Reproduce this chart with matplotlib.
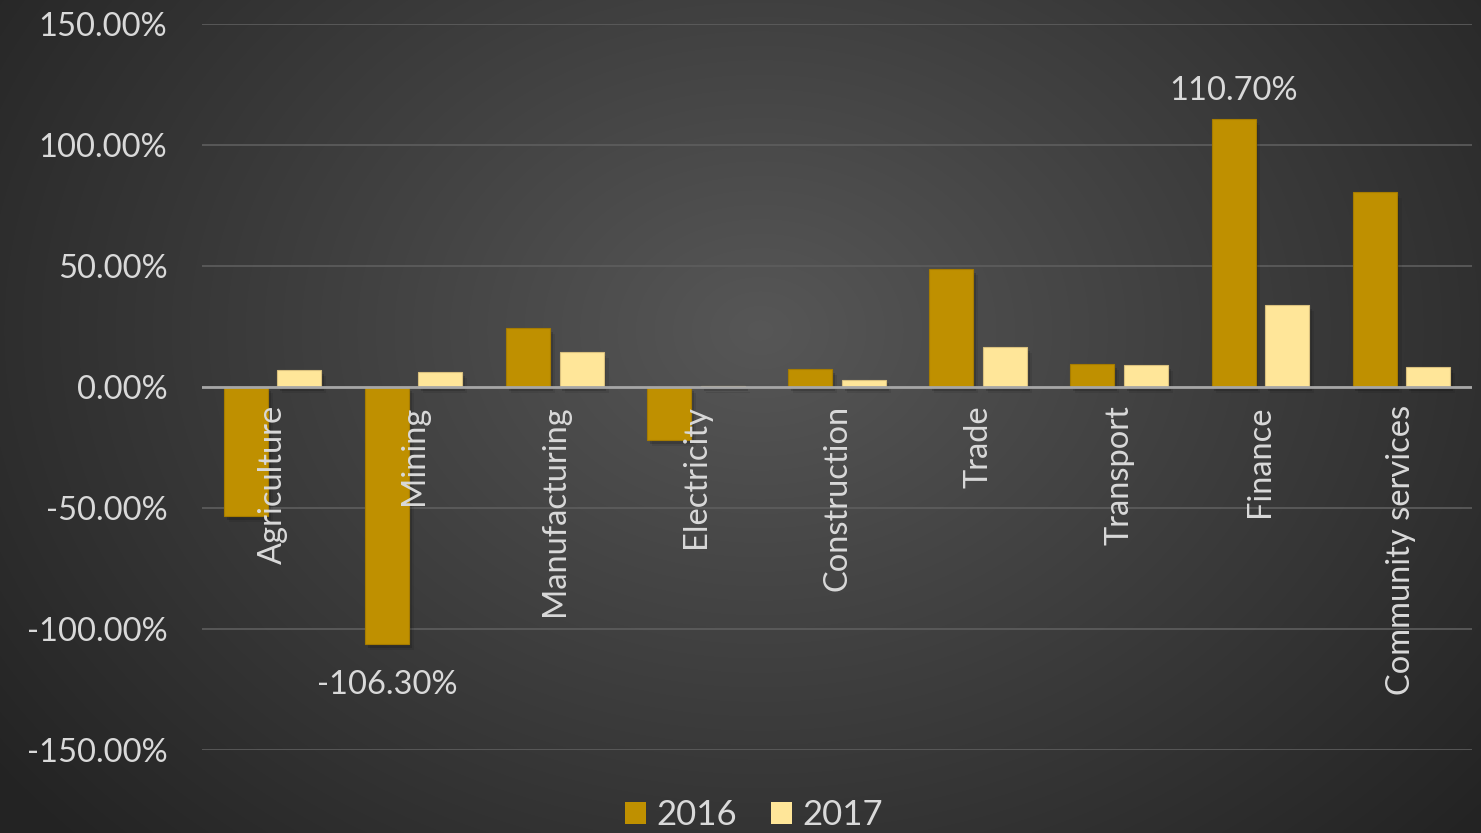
import numpy as np
import matplotlib
matplotlib.use("Agg")
import matplotlib.pyplot as plt
from matplotlib.patches import Patch

plt.rcParams['font.family'] = ['Lato', 'DejaVu Sans']

categories = ['Agriculture', 'Mining', 'Manufacturing', 'Electricity', 'Construction',
              'Trade', 'Transport', 'Finance', 'Community services']
vals_2016 = [-53.3, -106.3, 24.4, -21.9, 7.3, 48.8, 9.5, 110.7, 80.6]
vals_2017 = [7.0, 6.1, 14.5, 0.5, 3.0, 16.4, 9.0, 33.8, 8.4]
yticks = [-150, -100, -50, 0, 50, 100, 150]

c2016 = '#BF9000'
c2017 = '#FFE699'
txt = '#D9D9D9'

fig = plt.figure(figsize=(14.81, 8.33), dpi=100)

# radial gradient background
bg = fig.add_axes([0, 0, 1, 1])
h, w = 833, 1481
yy, xx = np.mgrid[0:h, 0:w]
r = np.sqrt(((xx - 760) / 900.0) ** 2 + ((yy - 330) / 700.0) ** 2)
shade = np.clip(0.34 - 0.19 * r, 0.14, 0.34)
bg.imshow(np.dstack([shade, shade, shade]), aspect='auto', extent=[0, 1, 0, 1])
bg.axis('off')

ax = fig.add_axes([202 / w, 1 - 750 / h, 1270 / w, 726 / h])
ax.patch.set_alpha(0)

x = np.arange(len(categories))
bw = 0.312
off = 0.19
# soft shadows
for dx, dy, a in [(0.02, -1.5, 0.15), (0.035, -2.5, 0.08)]:
    ax.bar(x - off + dx, vals_2016, bw, bottom=dy, color='black', alpha=a, zorder=2)
    ax.bar(x + off + dx, vals_2017, bw, bottom=dy, color='black', alpha=a, zorder=2)
ax.bar(x - off, vals_2016, bw, color=c2016, edgecolor='#A67C00', linewidth=0.8, zorder=3, label='2016')
ax.bar(x + off, vals_2017, bw, color=c2017, edgecolor='#D9C07E', linewidth=0.8, zorder=3, label='2017')

ax.set_xlim(-0.5, len(categories) - 0.5)
ax.set_ylim(-150, 150)
ax.set_yticks(yticks)
ax.set_yticklabels(['{:.2f}%'.format(v) for v in yticks], fontsize=23.5, color=txt)
ax.tick_params(axis='y', length=0, pad=25)
ax.set_xticks([])
for s in ax.spines.values():
    s.set_visible(False)
ax.grid(axis='y', color='#5E5E5E', linewidth=1.2, zorder=0)
ax.axhline(0, color='#A6A6A6', linewidth=2, zorder=4)

for i, name in enumerate(categories):
    ax.text(i, -7.5, name, rotation=90, ha='center', va='top', fontsize=23.5, color=txt, zorder=5)

# data labels for extremes
ax.text(1 - off, -117, '-106.30%', ha='center', va='top', fontsize=23.5, color=txt)
ax.text(7 - off, 116, '110.70%', ha='center', va='bottom', fontsize=23.5, color=txt)

handles = [Patch(facecolor=c2016, label='2016'), Patch(facecolor=c2017, label='2017')]
leg = fig.legend(handles=handles, loc='center', bbox_to_anchor=(754 / w, 1 - 815 / h), ncol=2,
                 frameon=False, fontsize=25, handlelength=0.6, handleheight=0.6,
                 handletextpad=0.3, columnspacing=1.0)
for t in leg.get_texts():
    t.set_color(txt)

fig.savefig('out.png', dpi=100)
